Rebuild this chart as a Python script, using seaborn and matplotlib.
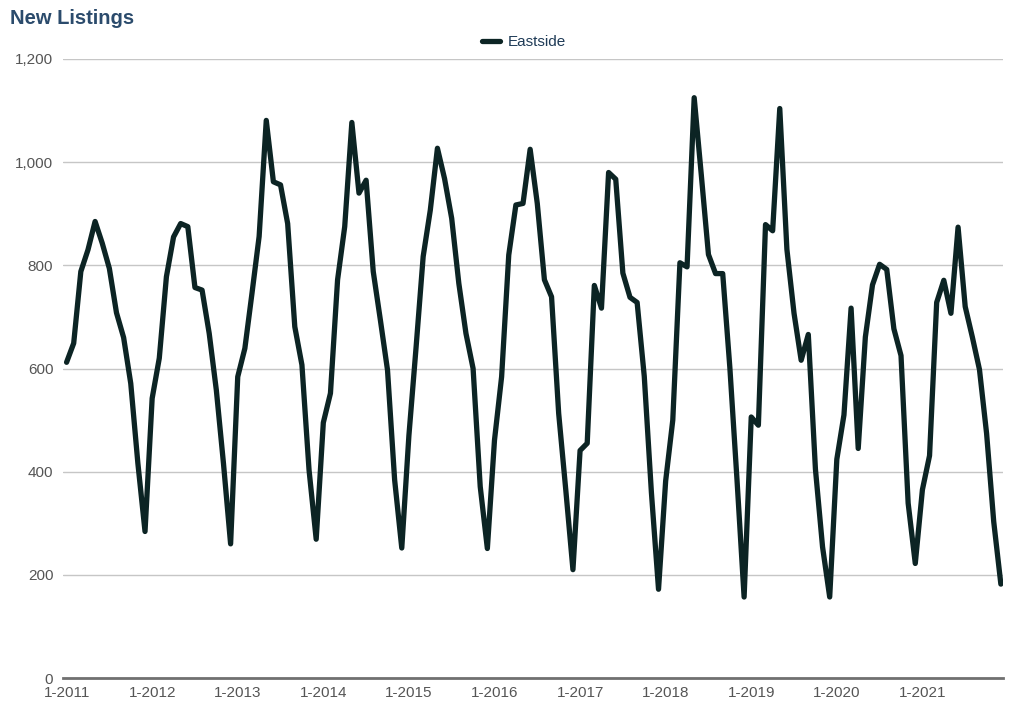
import numpy as np
import pandas as pd
import matplotlib
matplotlib.use("Agg")
import matplotlib.pyplot as plt
import seaborn as sns

years = list(range(2011, 2022))
v2011 = [612, 649, 788, 830, 885, 843, 794, 708, 660, 571, 416, 284]
v2012 = [542, 620, 778, 855, 881, 875, 757, 752, 668, 558, 416, 260]
v2013 = [584, 639, 746, 856, 1081, 962, 956, 881, 681, 607, 403, 269]
v2014 = [495, 552, 772, 875, 1077, 940, 965, 788, 694, 597, 384, 252]
v2015 = [470, 640, 817, 907, 1027, 968, 891, 765, 668, 600, 371, 251]
v2016 = [461, 584, 820, 917, 920, 1025, 920, 772, 739, 513, 364, 210]
v2017 = [441, 455, 761, 717, 980, 967, 785, 738, 728, 585, 360, 172]
v2018 = [382, 500, 805, 797, 1125, 975, 821, 784, 784, 602, 385, 157]
v2019 = [506, 490, 879, 867, 1104, 831, 707, 616, 666, 405, 254, 157]
v2020 = [424, 510, 717, 445, 661, 762, 802, 792, 677, 625, 339, 222]
v2021 = [365, 431, 728, 771, 707, 874, 720, 661, 598, 474, 303, 182]

values = v2011 + v2012 + v2013 + v2014 + v2015 + v2016 + v2017 + v2018 + v2019 + v2020 + v2021
months = [f"{m}-{y}" for y in years for m in range(1, 13)]
tick_labels = [f"1-{y}" for y in years]
series_name = "Eastside"

df = pd.DataFrame({"idx": np.arange(len(values)), "month": months,
                   "value": values, "series": series_name})

sns.set_theme(style="white")
plt.rcParams['font.family'] = ['Liberation Sans', 'DejaVu Sans']

fig = plt.figure(figsize=(10.24, 7.07), dpi=100)
ax = fig.add_axes([63/1024, 1-678/707, (1003-63)/1024, (678-59)/707])

sns.lineplot(data=df, x="idx", y="value", hue="series", palette=["#0c2424"],
             linewidth=3.8, ax=ax, legend=True)

ax.set_xlim(-0.5, 131.3)
ax.set_ylim(0, 1200)
ax.set_yticks(range(0, 1201, 200))
ax.set_yticklabels([f"{v:,}" for v in range(0, 1201, 200)])
ax.set_xticks(range(0, len(values), 12))
ax.set_xticklabels(tick_labels)
ax.set_xlabel("")
ax.set_ylabel("")

ax.grid(axis="y", color="#c6c6c6", linewidth=1.0)
ax.grid(axis="x", visible=False)
ax.set_axisbelow(True)
for s in ["top", "right", "left"]:
    ax.spines[s].set_visible(False)
ax.spines["bottom"].set_color("#707070")
ax.spines["bottom"].set_linewidth(2.0)
ax.tick_params(axis="x", direction="out", length=5, width=2, color="#707070",
               labelsize=11, labelcolor="#555555", pad=1)
ax.tick_params(axis="y", length=0, labelsize=11, labelcolor="#555555", pad=7)

leg = ax.get_legend()
if leg is not None:
    leg.remove()
handles, labels = ax.get_legend_handles_labels()
fig.legend(handles, labels, loc="center", bbox_to_anchor=(524/1024, 1-42/707),
           frameon=False, fontsize=11, handlelength=1.2, handletextpad=0.5,
           labelcolor="#1f3b57")

fig.text(10/1024, 1-18/707, "New Listings", fontsize=14.5, fontweight="bold",
         color="#2b4b6c", ha="left", va="center")

fig.savefig("out.png", dpi=100)
